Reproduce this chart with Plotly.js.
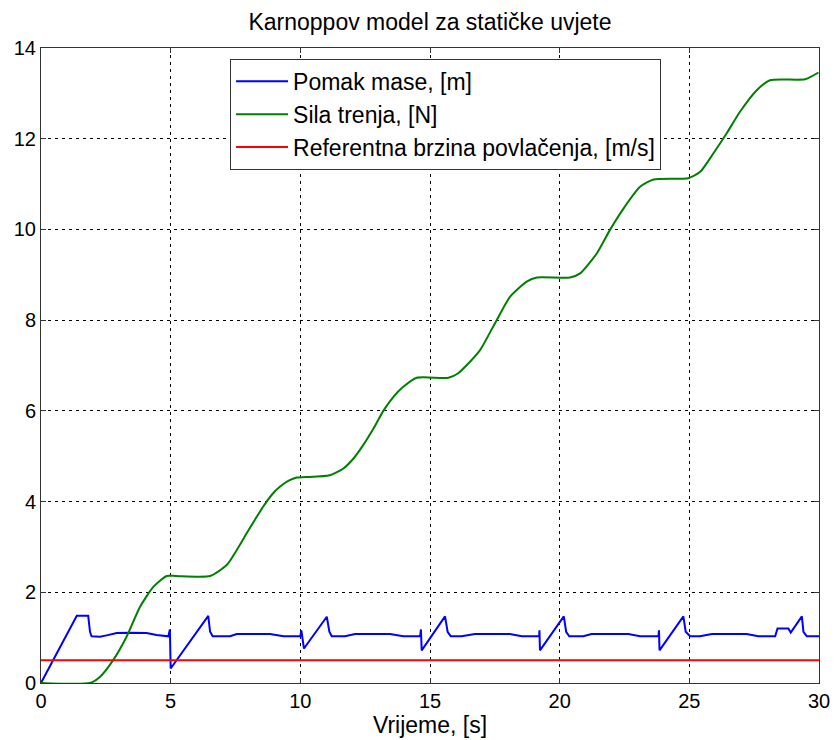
<!DOCTYPE html>
<html>
<head>
<meta charset="utf-8">
<script src="https://cdn.plot.ly/plotly-3.0.1.min.js"></script>
<style>html,body{margin:0;padding:0;background:#fff;}</style>
</head>
<body>
<div id="chart" style="width:835px;height:740px;"></div>
<script>
const tBlue = [0, 1.38, 1.82, 1.89, 1.95, 2.28, 2.53, 2.92, 3.43, 4.07, 4.46, 4.91, 4.97, 5.0, 6.45, 6.52, 6.62, 7.29, 7.55, 8.83, 9.35, 10.0, 10.04, 10.14, 11.02, 11.12, 11.21, 11.72, 12.11, 13.46, 13.97, 14.62, 14.65, 14.68, 15.58, 15.68, 15.8, 16.22, 16.73, 18.08, 18.54, 19.21, 19.22, 19.24, 20.16, 20.25, 20.37, 20.91, 21.23, 22.65, 23.1, 23.81, 23.83, 23.85, 24.77, 24.86, 25.03, 25.41, 25.87, 27.21, 27.66, 28.31, 28.4, 28.82, 28.91, 29.34, 29.4, 29.53, 30];
const yBlue = [0, 1.48, 1.48, 1.13, 1.03, 1.02, 1.05, 1.10, 1.11, 1.10, 1.06, 1.03, 1.18, 0.32, 1.48, 1.13, 1.03, 1.03, 1.08, 1.08, 1.03, 1.03, 1.16, 0.76, 1.46, 1.13, 1.03, 1.03, 1.08, 1.08, 1.03, 1.03, 1.18, 0.72, 1.47, 1.13, 1.03, 1.03, 1.08, 1.08, 1.03, 1.03, 1.16, 0.72, 1.47, 1.13, 1.03, 1.03, 1.08, 1.08, 1.03, 1.03, 1.16, 0.72, 1.47, 1.13, 1.03, 1.03, 1.08, 1.08, 1.03, 1.03, 1.20, 1.20, 1.11, 1.47, 1.13, 1.03, 1.03];

const tGreen = [0, 1.89, 2.28, 2.79, 3.3, 3.82, 4.33, 4.85, 5.2, 6.52, 7.16, 7.6, 7.93, 8.25, 8.57, 8.9, 9.22, 9.55, 9.86, 10.2, 11.14, 11.66, 12.05, 12.43, 12.82, 13.2, 13.59, 13.97, 14.49, 15.71, 16.09, 16.42, 16.93, 17.57, 18.09, 18.73, 19.12, 20.4, 20.79, 21.43, 21.94, 22.46, 23.1, 23.62, 24.96, 25.42, 25.93, 26.44, 26.96, 27.6, 28.11, 29.46, 29.98];
const yGreen = [0, 0, 0.14, 0.51, 1.02, 1.68, 2.12, 2.36, 2.36, 2.36, 2.6, 2.98, 3.30, 3.6, 3.89, 4.15, 4.33, 4.46, 4.53, 4.54, 4.58, 4.73, 4.95, 5.25, 5.61, 6.0, 6.31, 6.53, 6.73, 6.73, 6.83, 7.01, 7.34, 8.0, 8.52, 8.85, 8.94, 8.94, 9.03, 9.47, 9.99, 10.46, 10.94, 11.1, 11.13, 11.27, 11.68, 12.12, 12.6, 13.07, 13.29, 13.31, 13.46];

const tRed = [0, 30];
const yRed = [0.5, 0.5];

const seriesNames = ['Pomak mase, [m]', 'Sila trenja, [N]', 'Referentna brzina povlačenja, [m/s]'];
const xTicks = [0, 5, 10, 15, 20, 25, 30];
const yTicks = [0, 2, 4, 6, 8, 10, 12, 14];

const FONT = 'Liberation Sans, Arial, sans-serif';

const traces = [
  {x: tBlue, y: yBlue, name: seriesNames[0], mode: 'lines', legendgroup: 'a', line: {color: '#0000ff', width: 2}},
  {x: tGreen, y: yGreen, name: seriesNames[1], mode: 'lines', legendgroup: 'b', line: {color: '#008000', width: 2, shape: 'spline', smoothing: 0.6}},
  {x: tRed, y: yRed, name: seriesNames[2], mode: 'lines', legendgroup: 'c', line: {color: '#ff0000', width: 2}}
];

const axisCommon = {
  showline: true, mirror: 'ticks', linecolor: '#333', linewidth: 1,
  ticks: 'inside', ticklen: 5, tickcolor: '#333',
  showgrid: true, gridcolor: '#000', gridwidth: 1, griddash: '3px,4px',
  zeroline: false,
  tickfont: {family: FONT, size: 20, color: '#000'}
};

const layout = {
  width: 835, height: 740,
  margin: {l: 41, r: 16, t: 48, b: 57},
  paper_bgcolor: '#fff', plot_bgcolor: '#fff',
  font: {family: FONT, color: '#000'},
  title: {text: 'Karnoppov model za statičke uvjete', font: {family: FONT, size: 23, color: '#000'},
          x: 0.5, xref: 'paper', xanchor: 'center', y: 0.97, yref: 'container', yanchor: 'middle'},
  xaxis: Object.assign({}, axisCommon, {range: [0, 30], tickvals: xTicks, ticktext: xTicks.map(String),
          title: {text: 'Vrijeme, [s]', font: {family: FONT, size: 23, color: '#000'}, standoff: 5}}),
  yaxis: Object.assign({}, axisCommon, {range: [0, 14], tickvals: yTicks, ticktext: yTicks.map(String)}),
  showlegend: true,
  legend: {x: 0.243, y: 0.983, xanchor: 'left', yanchor: 'top', bgcolor: '#fff', bordercolor: '#333', borderwidth: 1,
           font: {family: FONT, size: 23, color: '#000'}, traceorder: 'grouped', tracegroupgap: 0, itemwidth: 52}
};

Plotly.newPlot('chart', traces, layout, {displayModeBar: false, staticPlot: true});
</script>
</body>
</html>
